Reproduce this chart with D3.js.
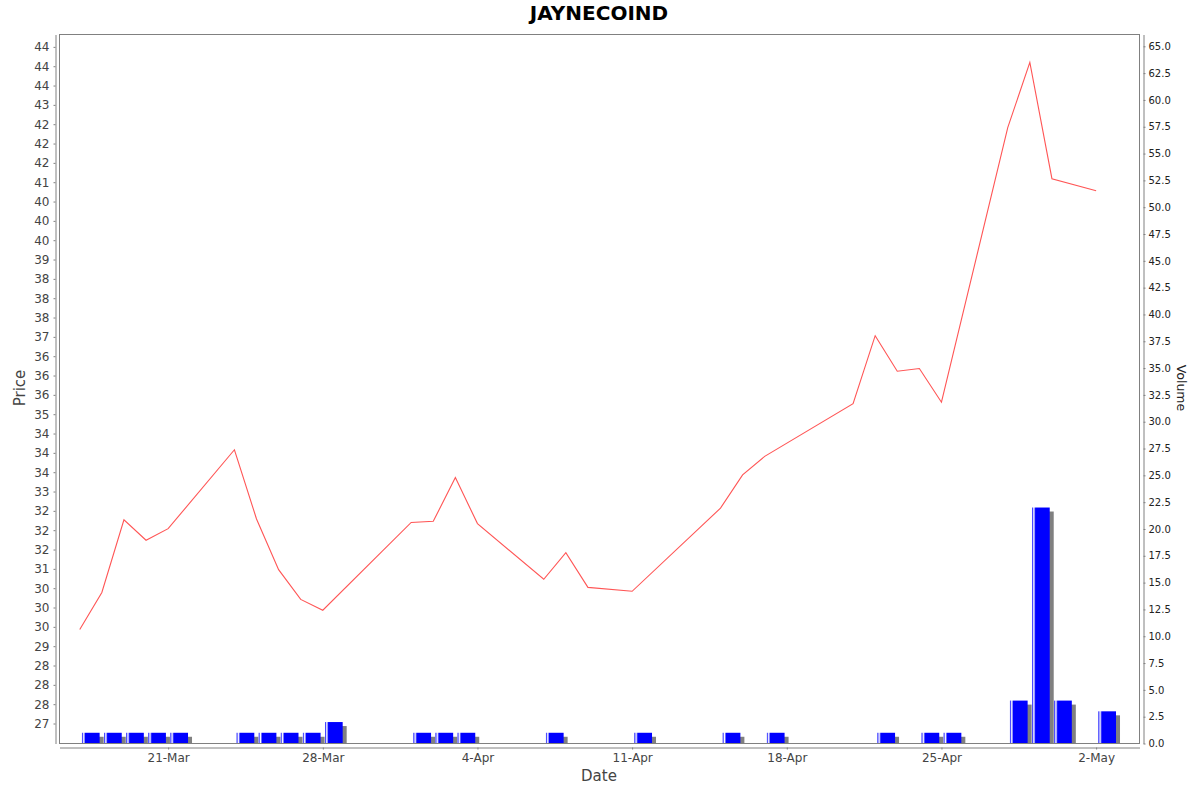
<!DOCTYPE html>
<html>
<head>
<meta charset="utf-8">
<script src="https://cdn.jsdelivr.net/npm/d3@7"></script>
<style>
  body { margin: 0; background: #fff; }
  svg { display: block; font-family: "DejaVu Sans", sans-serif; }
</style>
</head>
<body>
<svg id="chart" width="1200" height="792"></svg>
<script>
// trading days, closing price and volume
var dates = ["2025-03-17","2025-03-18","2025-03-19","2025-03-20","2025-03-21",
  "2025-03-24","2025-03-25","2025-03-26","2025-03-27","2025-03-28",
  "2025-04-01","2025-04-02","2025-04-03","2025-04-04",
  "2025-04-07","2025-04-08","2025-04-09","2025-04-11",
  "2025-04-15","2025-04-16","2025-04-17",
  "2025-04-21","2025-04-22","2025-04-23","2025-04-24","2025-04-25",
  "2025-04-28","2025-04-29","2025-04-30","2025-05-02"];
var prices = [29.43, 30.39, 32.27, 31.74, 32.04,
  34.08, 32.29, 30.98, 30.21, 29.93,
  32.20, 32.23, 33.36, 32.17,
  30.73, 31.42, 30.52, 30.42,
  32.57, 33.43, 33.91,
  35.27, 37.03, 36.11, 36.18, 35.31,
  42.41, 44.10, 41.09, 40.78];
var volumes = [1, 1, 1, 1, 1,
  1, 1, 1, 1, 2,
  1, 1, 1, 0,
  1, 0, 0, 1,
  1, 0, 1,
  0, 1, 0, 1, 1,
  4, 22, 4, 3];
var priceTicks = d3.range(27, 44.75, 0.5);
var volumeTicks = d3.range(0, 65.01, 2.5);

var parse = d3.timeParse("%Y-%m-%d");
var rows = dates.map(function(d, i) {
  return { date: parse(d), price: prices[i], volume: volumes[i] };
});

var svg = d3.select("#chart");
var plotLeft = 59.5, plotTop = 34.5, plotW = 1080, plotH = 709;
var DAY = 864e5;

// time axis runs from a bit before the first day to past the last bar
var x = d3.scaleTime()
  .domain([new Date(2025, 2, 16, 2), new Date(2025, 4, 3, 23, 7)])
  .range([0, plotW]);
var yPrice = d3.scaleLinear().domain([26.483, 44.82]).range([plotH, 0]);
var yVol = d3.scaleLinear().domain([0, 66.1]).range([plotH, 0]);

// java style half-even rounding for the price labels
function halfEven(v) {
  var f = Math.floor(v);
  if (Math.abs(v - f - 0.5) < 1e-9) return (f % 2 === 0) ? f : f + 1;
  return Math.round(v);
}

var defs = svg.append("defs");
var grad = defs.append("linearGradient").attr("id", "barGrad")
  .attr("x1", "0").attr("x2", "1").attr("y1", "0").attr("y2", "0");
grad.append("stop").attr("offset", "0").attr("stop-color", "#0000ff");
grad.append("stop").attr("offset", "0.1").attr("stop-color", "#ffffff");
grad.append("stop").attr("offset", "0.2").attr("stop-color", "#0000ff");
grad.append("stop").attr("offset", "1").attr("stop-color", "#0000ff");

svg.append("text")
  .attr("x", 599).attr("y", 20)
  .attr("text-anchor", "middle")
  .attr("font-size", 20).attr("font-weight", "bold")
  .attr("fill", "#000")
  .text("JAYNECOIND");

var plot = svg.append("g").attr("transform", "translate(" + plotLeft + "," + plotTop + ")");

// volume bars with their shadows
var bars = plot.append("g").selectAll("g")
  .data(rows.filter(function(r) { return r.volume > 0; }))
  .enter().append("g");

function barX(r) { return x(new Date(+r.date + 0.1 * DAY)); }
function barW(r) { return x(new Date(+r.date + 0.9 * DAY)) - barX(r); }

bars.append("rect")
  .attr("x", function(r) { return barX(r) + 4; })
  .attr("y", function(r) { return yVol(r.volume) + 4; })
  .attr("width", barW)
  .attr("height", function(r) { return plotH - yVol(r.volume) - 4; })
  .attr("fill", "#808080");

bars.append("rect")
  .attr("x", barX)
  .attr("y", function(r) { return yVol(r.volume); })
  .attr("width", barW)
  .attr("height", function(r) { return plotH - yVol(r.volume); })
  .attr("fill", "url(#barGrad)");

// price line
var line = d3.line()
  .x(function(r) { return x(r.date); })
  .y(function(r) { return yPrice(r.price); });

plot.append("path")
  .datum(rows)
  .attr("d", line)
  .attr("fill", "none")
  .attr("stroke", "#ff5555")
  .attr("stroke-width", 1.1);

plot.append("rect")
  .attr("width", plotW).attr("height", plotH)
  .attr("fill", "none").attr("stroke", "#808080");

// axes
var leftAxis = svg.append("g")
  .attr("transform", "translate(55.5," + plotTop + ")")
  .call(d3.axisLeft(yPrice).tickValues(priceTicks).tickSize(2).tickSizeOuter(0).tickPadding(4)
    .tickFormat(function(v) { return halfEven(v); }));

var rightAxis = svg.append("g")
  .attr("transform", "translate(1143.5," + plotTop + ")")
  .call(d3.axisRight(yVol).tickValues(volumeTicks).tickSize(2).tickSizeOuter(0).tickPadding(3)
    .tickFormat(d3.format(".1f")));

var bottomAxis = svg.append("g")
  .attr("transform", "translate(" + plotLeft + ",747.5)")
  .call(d3.axisBottom(x).ticks(d3.timeFriday.every(1)).tickSize(2).tickSizeOuter(0).tickPadding(4)
    .tickFormat(d3.timeFormat("%-d-%b")));

[leftAxis, rightAxis, bottomAxis].forEach(function(a) {
  a.select(".domain").attr("stroke", "#808080");
  a.selectAll(".tick line").attr("stroke", "#808080");
  a.selectAll("text").attr("fill", "#444").attr("font-family", "DejaVu Sans, sans-serif");
});
leftAxis.selectAll("text").attr("font-size", 12);
bottomAxis.selectAll("text").attr("font-size", 12);
rightAxis.selectAll("text").attr("font-size", 10).attr("fill", "#222");

svg.append("text")
  .attr("transform", "translate(25,388) rotate(-90)")
  .attr("text-anchor", "middle")
  .attr("font-size", 15).attr("fill", "#444")
  .text("Price");

svg.append("text")
  .attr("x", 599).attr("y", 781)
  .attr("text-anchor", "middle")
  .attr("font-size", 15).attr("fill", "#444")
  .text("Date");

svg.append("text")
  .attr("transform", "translate(1177,388) rotate(90)")
  .attr("text-anchor", "middle")
  .attr("font-size", 12.5).attr("fill", "#222")
  .text("Volume");
</script>
</body>
</html>
